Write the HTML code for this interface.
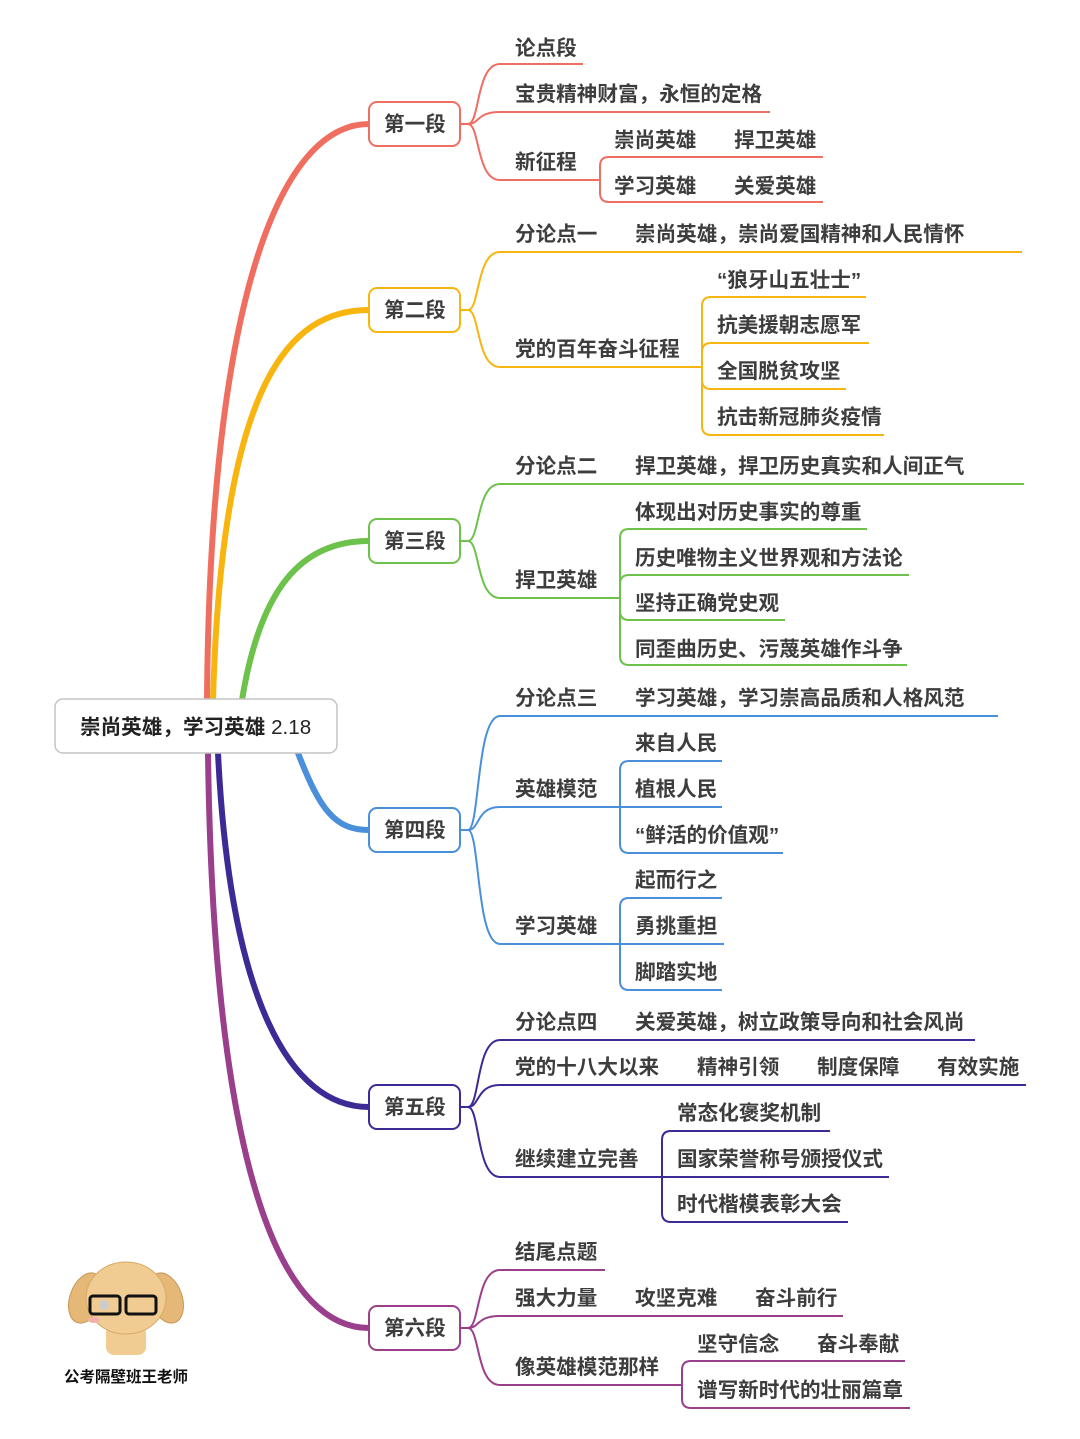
<!DOCTYPE html>
<html><head><meta charset="utf-8"><style>
html,body{margin:0;padding:0;background:#fff}
svg{display:block}
text{font-family:"Liberation Sans","Noto Sans CJK SC",sans-serif;font-size:20.6px;font-weight:bold;fill:#3d3d3d}
</style></head><body>
<svg width="1080" height="1439" viewBox="0 0 1080 1439" xmlns="http://www.w3.org/2000/svg">
<g fill="none" stroke-linecap="round">
<path d="M207,700 C210,300 280,124 369,124" stroke="#f06e60" stroke-width="6"/>
<path d="M213,700 C222,380 290,310 369,310" stroke="#f8b510" stroke-width="6"/>
<path d="M242,700 C260,590 300,541 369,541" stroke="#6cc24a" stroke-width="6"/>
<path d="M298,753 C320,810 335,830 369,830" stroke="#4a8fda" stroke-width="6"/>
<path d="M218,753 C230,1000 290,1107 369,1107" stroke="#3d2a95" stroke-width="6"/>
<path d="M208,753 C214,1200 290,1328 369,1328" stroke="#9a3f8c" stroke-width="6"/>
</g>

<g fill="none" stroke-width="2">
<g stroke="#ee6e62">
<path d="M460,124 H468 C480,124 476,64 500,64 H583"/>
<path d="M468,124 C480,124 476,112 500,112 H770"/>
<path d="M468,124 C480,124 476,180 500,180 H600"/>
<path d="M600,180 V166 Q600,157 609,157 H823"/>
<path d="M600,180 V193 Q600,202 609,202 H823"/>
</g>
<g stroke="#f8b510">
<path d="M460,310 H468 C480,310 476,252 500,252 H1022"/>
<path d="M468,310 C480,310 476,367 500,367 H702"/>
<path d="M702,367 V306 Q702,297 711,297 H866"/>
<path d="M702,352 Q702,343 711,343 H869"/>
<path d="M702,367 V380 Q702,389 711,389 H846"/>
<path d="M702,380 V426 Q702,435 711,435 H884"/>
</g>
<g stroke="#6cc24a">
<path d="M460,541 H468 C480,541 476,484 500,484 H1024"/>
<path d="M468,541 C480,541 476,598 500,598 H620"/>
<path d="M620,598 V538 Q620,529 629,529 H867"/>
<path d="M620,584 Q620,575 629,575 H909"/>
<path d="M620,598 V611 Q620,620 629,620 H785"/>
<path d="M620,611 V656 Q620,665 629,665 H907"/>
</g>
<g stroke="#4a8fda">
<path d="M460,830 H468 C480,830 476,716 500,716 H998"/>
<path d="M468,830 C480,830 476,807 500,807 H620"/>
<path d="M468,830 C480,830 476,944 500,944 H620"/>
<path d="M620,807 V770 Q620,761 629,761 H722"/>
<path d="M620,807 H722"/>
<path d="M620,807 V844 Q620,853 629,853 H783"/>
<path d="M620,944 V907 Q620,898 629,898 H722"/>
<path d="M620,944 H724"/>
<path d="M620,944 V981 Q620,990 629,990 H722"/>
</g>
<g stroke="#3d2a95">
<path d="M460,1107 H468 C480,1107 476,1040 500,1040 H975"/>
<path d="M468,1107 C480,1107 476,1085 500,1085 H1026"/>
<path d="M468,1107 C480,1107 476,1177 500,1177 H662"/>
<path d="M662,1177 V1140 Q662,1131 671,1131 H830"/>
<path d="M662,1177 H889"/>
<path d="M662,1177 V1213 Q662,1222 671,1222 H848"/>
</g>
<g stroke="#9a3f8c">
<path d="M460,1328 H468 C480,1328 476,1270 500,1270 H605"/>
<path d="M468,1328 C480,1328 476,1316 500,1316 H843"/>
<path d="M468,1328 C480,1328 476,1385 500,1385 H682"/>
<path d="M682,1385 V1370 Q682,1361 691,1361 H905"/>
<path d="M682,1385 V1399 Q682,1408 691,1408 H910"/>
</g>
</g>

<rect x="55" y="699" width="282" height="54" rx="8" fill="#fff" stroke="#c4c4c4" stroke-width="1.5"/>
<text x="80" y="734" style="fill:#222">崇尚英雄，学习英雄 <tspan style="font-weight:normal">2.18</tspan></text>

<g fill="#fff" stroke-width="2">
<rect x="369" y="102" width="91" height="44" rx="8" stroke="#ee6e62"/>
<rect x="369" y="288" width="91" height="44" rx="8" stroke="#f8b510"/>
<rect x="369" y="519" width="91" height="44" rx="8" stroke="#6cc24a"/>
<rect x="369" y="808" width="91" height="44" rx="8" stroke="#4a8fda"/>
<rect x="369" y="1085" width="91" height="44" rx="8" stroke="#3d2a95"/>
<rect x="369" y="1306" width="91" height="44" rx="8" stroke="#9a3f8c"/>
</g>
<text x="384" y="131">第一段</text>
<text x="384" y="317">第二段</text>
<text x="384" y="548">第三段</text>
<text x="384" y="837">第四段</text>
<text x="384" y="1114">第五段</text>
<text x="384" y="1335">第六段</text>

<text x="515" y="55">论点段</text>
<text x="515" y="101">宝贵精神财富，永恒的定格</text>
<text x="515" y="169">新征程</text>
<text x="614" y="147">崇尚英雄</text><text x="734" y="147">捍卫英雄</text>
<text x="614" y="193">学习英雄</text><text x="734" y="193">关爱英雄</text>
<text x="515" y="241">分论点一</text><text x="635" y="241">崇尚英雄，崇尚爱国精神和人民情怀</text>
<text x="515" y="356">党的百年奋斗征程</text>
<text x="717" y="287">“狼牙山五壮士”</text>
<text x="717" y="332">抗美援朝志愿军</text>
<text x="717" y="378">全国脱贫攻坚</text>
<text x="717" y="424">抗击新冠肺炎疫情</text>
<text x="515" y="473">分论点二</text><text x="635" y="473">捍卫英雄，捍卫历史真实和人间正气</text>
<text x="515" y="587">捍卫英雄</text>
<text x="635" y="519">体现出对历史事实的尊重</text>
<text x="635" y="565">历史唯物主义世界观和方法论</text>
<text x="635" y="610">坚持正确党史观</text>
<text x="635" y="656">同歪曲历史、污蔑英雄作斗争</text>
<text x="515" y="705">分论点三</text><text x="635" y="705">学习英雄，学习崇高品质和人格风范</text>
<text x="515" y="796">英雄模范</text>
<text x="635" y="750">来自人民</text>
<text x="635" y="796">植根人民</text>
<text x="635" y="842">“鲜活的价值观”</text>
<text x="515" y="933">学习英雄</text>
<text x="635" y="887">起而行之</text>
<text x="635" y="933">勇挑重担</text>
<text x="635" y="979">脚踏实地</text>
<text x="515" y="1029">分论点四</text><text x="635" y="1029">关爱英雄，树立政策导向和社会风尚</text>
<text x="515" y="1074">党的十八大以来</text><text x="697" y="1074">精神引领</text><text x="817" y="1074">制度保障</text><text x="937" y="1074">有效实施</text>
<text x="515" y="1166">继续建立完善</text>
<text x="677" y="1120">常态化褒奖机制</text>
<text x="677" y="1166">国家荣誉称号颁授仪式</text>
<text x="677" y="1211">时代楷模表彰大会</text>
<text x="515" y="1259">结尾点题</text>
<text x="515" y="1305">强大力量</text><text x="635" y="1305">攻坚克难</text><text x="755" y="1305">奋斗前行</text>
<text x="515" y="1374">像英雄模范那样</text>
<text x="697" y="1351">坚守信念</text><text x="817" y="1351">奋斗奉献</text>
<text x="697" y="1397">谱写新时代的壮丽篇章</text>

<g>
<ellipse cx="86" cy="1298" rx="16" ry="26" fill="#e6b878" stroke="#c79555" transform="rotate(20 86 1298)"/>
<ellipse cx="166" cy="1298" rx="16" ry="26" fill="#e6b878" stroke="#c79555" transform="rotate(-20 166 1298)"/>
<rect x="106" y="1325" width="40" height="30" rx="8" fill="#f0cc92"/>
<ellipse cx="126" cy="1298" rx="40" ry="36" fill="#f0cc92" stroke="#d9a868"/>
<rect x="90" y="1296" width="30" height="18" rx="3" fill="none" stroke="#111" stroke-width="3"/>
<rect x="126" y="1296" width="30" height="18" rx="3" fill="none" stroke="#111" stroke-width="3"/>
<circle cx="104" cy="1305" r="5" fill="#ccc"/>
<ellipse cx="94" cy="1320" rx="6" ry="3" fill="#f4b0a8"/>
</g>
<text x="64" y="1382" style="font-size:15.5px;fill:#111">公考隔壁班王老师</text>
</svg>
</body></html>
